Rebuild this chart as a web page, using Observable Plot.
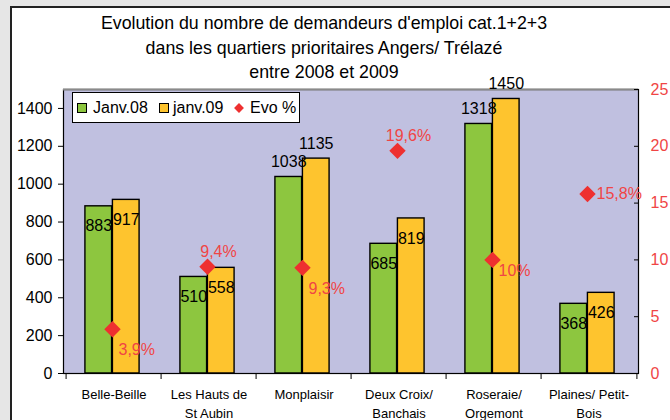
<!DOCTYPE html>
<html><head><meta charset="utf-8">
<script src="https://cdn.jsdelivr.net/npm/d3@7"></script>
<script src="https://cdn.jsdelivr.net/npm/@observablehq/plot@0.6"></script>
<style>
body{margin:0;background:#e6e6e6;width:670px;height:420px;overflow:hidden;position:relative;font-family:"Liberation Sans",Arial,sans-serif;}
#panel{position:absolute;left:10px;top:6px;width:700px;height:450px;background:#fff;border-left:2px solid #222;border-top:2px solid #222;}
#title{position:absolute;left:0;width:648px;top:11px;text-align:center;font-size:17.8px;line-height:24.5px;color:#000;}
#chart{position:absolute;left:0;top:0;}
#legend{position:absolute;left:72px;top:92px;width:226px;height:29px;background:#fff;border:1px solid #000;font-size:16px;}
#legend span{position:absolute;top:50%;transform:translateY(-50%);white-space:nowrap;}
#legend .sw{width:8px;height:8px;border:1px solid #000;}
#legend .dm{width:7px;height:7px;background:#ee3030;transform:translate(-50%,-50%) rotate(45deg);}
</style>
</head><body>
<div id="panel"></div>
<div id="chart"></div>
<div id="title">Evolution du nombre de demandeurs d'emploi cat.1+2+3<br>dans les quartiers prioritaires Angers/ Trélazé<br>entre 2008 et 2009</div>
<div id="legend">
  <span class="sw" style="left:4px;background:#8dc63f"></span><span style="left:20px">Janv.08</span>
  <span class="sw" style="left:86px;background:#fec42e"></span><span style="left:100px">janv.09</span>
  <span class="dm" style="left:166px"></span><span style="left:177px">Evo %</span>
</div>
<script>
const categories = ["Belle-Beille","Les Hauts de St Aubin","Monplaisir","Deux Croix/ Banchais","Roseraie/ Orgemont","Plaines/ Petit-Bois"];
const tickLabels = ["Belle-Beille","Les Hauts de\nSt Aubin","Monplaisir","Deux Croix/\nBanchais","Roseraie/\nOrgemont","Plaines/ Petit-\nBois"];
const janv08 = [883, 510, 1038, 685, 1318, 368];
const janv09 = [917, 558, 1135, 819, 1450, 426];
const evo = [3.9, 9.4, 9.3, 19.6, 10, 15.8];
const evoLabels = ["3,9%","9,4%","9,3%","19,6%","10%","15,8%"];
const leftTicks = [0,200,400,600,800,1000,1200,1400];
const rightTicks = [0,5,10,15,20,25];

// styling (label placement per point)
const evoPlacement = ["below","above","below","above","near","right"];
const place = {
  below:{dx:6,dy:21,textAnchor:"start"},
  above:{dx:11,dy:-15,textAnchor:"middle"},
  near:{dx:6,dy:11,textAnchor:"start"},
  right:{dx:9,dy:0,textAnchor:"start"}
};

const rows = categories.map((c,i)=>({cat:c, a:janv08[i], b:janv09[i], evo:evo[i], lab:evoLabels[i], place:evoPlacement[i]}));
const yMax = 1500, rMax = 25, k = yMax / rMax;
const mL = 63, mR = 32, W = 670;
const bw = (W - mL - mR) / categories.length;
const barW = 27.5;
const red = "#f04545";
const font = "Liberation Sans, Arial, sans-serif";

const marks = [
  Plot.frame({fill:"#c0c0e0", stroke:"none"}),
  Plot.barY(rows,{x:"cat", y:"a", fill:"#8dc63f", stroke:"#000", strokeWidth:1.4, insetLeft:bw/2-barW-1.5, insetRight:bw/2+1.5}),
  Plot.barY(rows,{x:"cat", y:"b", fill:"#fec42e", stroke:"#000", strokeWidth:1.4, insetLeft:bw/2-1.5, insetRight:bw/2-barW+1.5}),
  Plot.frame({stroke:"#000", strokeWidth:1.2}),
  Plot.ruleY([yMax],{stroke:"#8a8a8a", strokeWidth:2}),
  Plot.axisY({anchor:"left", ticks:leftTicks, tickFormat:d=>String(d), tickSize:5, tickPadding:6, fontSize:16, label:null, color:"#000"}),
  Plot.axisY({anchor:"right", ticks:rightTicks.map(v=>v*k), tickFormat:d=>String(Math.round(d/k)), tickSize:-5, tickPadding:17, fontSize:16, label:null, stroke:"#000", fill:red}),
  Plot.axisX({ticks:categories, tickSize:6, tickFormat:()=>"", dx:-bw/2, label:null, color:"#000"}),
  Plot.axisX({ticks:[categories[categories.length-1]], tickSize:6, tickFormat:()=>"", dx:bw/2, label:null, color:"#000"}),
  Plot.axisX({ticks:categories, tickSize:0, tickPadding:13, fontSize:13, lineHeight:1.4, tickFormat:d=>tickLabels[categories.indexOf(d)], label:null, color:"#000"}),
  // bar value labels
  Plot.text(rows.filter(d=>d.a<1000),{x:"cat", y:"a", text:d=>String(d.a), dx:-barW/2-1.5, dy:20, fontSize:16, fill:"#000"}),
  Plot.text(rows.filter(d=>d.a>=1000),{x:"cat", y:"a", text:d=>String(d.a), dx:-barW/2-1.5, dy:-15, fontSize:16, fill:"#000"}),
  Plot.text(rows.filter(d=>d.b<1000),{x:"cat", y:"b", text:d=>String(d.b), dx:barW/2-1.5, dy:20, fontSize:16, fill:"#000"}),
  Plot.text(rows.filter(d=>d.b>=1000),{x:"cat", y:"b", text:d=>String(d.b), dx:barW/2-1.5, dy:-15, fontSize:16, fill:"#000"}),
  Plot.dot(rows,{x:"cat", y:d=>d.evo*k, symbol:"diamond2", r:7.4, dx:-1.5, fill:"#ee3030", stroke:"none"})
];
for (const p of Object.keys(place)) {
  const o = place[p];
  marks.push(Plot.text(rows.filter(d=>d.place===p),{x:"cat", y:d=>d.evo*k, text:"lab", dx:o.dx-1.5, dy:o.dy, textAnchor:o.textAnchor, fontSize:16, fill:red}));
}

const chart = Plot.plot({
  width:W, height:420, marginLeft:mL, marginRight:mR, marginTop:89, marginBottom:47,
  style:{background:"transparent", fontFamily:font, overflow:"visible"},
  x:{type:"band", domain:categories, padding:0, axis:null},
  y:{domain:[0,yMax], axis:null},
  marks
});
document.getElementById("chart").appendChild(chart);
</script>
</body></html>
